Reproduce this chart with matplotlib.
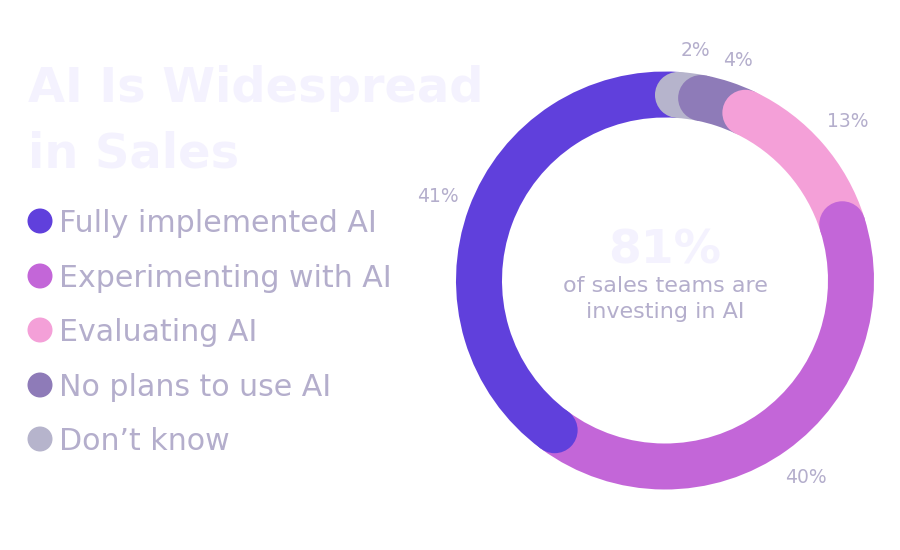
import matplotlib
matplotlib.use("Agg")
import matplotlib.pyplot as plt
from matplotlib.patches import Wedge, Circle
import numpy as np

# data
categories = ["Fully implemented AI", "Experimenting with AI", "Evaluating AI",
              "No plans to use AI", "Don\u2019t know"]
values = [41, 40, 13, 4, 2]
colors = ["#6040DC", "#C366D8", "#F4A0D8", "#8E7BB8", "#B6B4CC"]
title_lines = ["AI Is Widespread", "in Sales"]
center_value = "81%"
center_caption = ["of sales teams are", "investing in AI"]

TEXT = "#B4AECC"
PALE = "#F4F2FE"
FONT = "DejaVu Sans"

fig = plt.figure(figsize=(9, 5.5), dpi=100)
ax = fig.add_axes([0, 0, 1, 1])
ax.set_xlim(0, 900)
ax.set_ylim(0, 550)
ax.axis("off")

# donut geometry (pixel units, y up)
cx, cy = 665, 269.5
r_out, width = 209, 46
r_mid = r_out - width / 2
start = 4.0  # degrees clockwise from 12 o'clock where "Don't know" begins

# segments go clockwise starting with "Don't know", ending with "Fully implemented"
order = [4, 3, 2, 1, 0]
total = sum(values)
bounds = {}
a = start
for i in order:
    span = values[i] / total * 360
    bounds[i] = (a, a + span)
    a += span


def to_math(theta):
    return 90 - theta


for i in order:
    a0, a1 = bounds[i]
    ax.add_patch(Wedge((cx, cy), r_out, to_math(a1), to_math(a0), width=width,
                       facecolor=colors[i], edgecolor="none"))

# rounded start caps drawn on top of the previous segment
for i in order:
    a0, _ = bounds[i]
    t = np.deg2rad(to_math(a0))
    ax.add_patch(Circle((cx + r_mid * np.cos(t), cy + r_mid * np.sin(t)), width / 2,
                        facecolor=colors[i], edgecolor="none"))

# percentage labels
for i in order:
    a0, a1 = bounds[i]
    mid = (a0 + a1) / 2
    r_lab = 232 if values[i] < 10 else 242
    t = np.deg2rad(to_math(mid))
    ax.text(cx + r_lab * np.cos(t), cy + r_lab * np.sin(t), f"{values[i]}%",
            ha="center", va="center", fontsize=13.5, color=TEXT, family=FONT)

# centre text
ax.text(cx, 550 - 263, center_value, ha="center", va="baseline", fontsize=34,
        fontweight="bold", color=PALE, family=FONT)
for k, line in enumerate(center_caption):
    ax.text(cx, 550 - 292 - k * 26, line, ha="center", va="baseline", fontsize=16,
            color=TEXT, family=FONT)

# title
for k, line in enumerate(title_lines):
    ax.text(28, 550 - 102 - k * 66, line, ha="left", va="baseline", fontsize=34.5,
            fontweight="bold", color=PALE, family=FONT)

# legend
row_y = [221, 276, 330, 385, 439]
for i, (lab, c) in enumerate(zip(categories, colors)):
    y = 550 - row_y[i]
    ax.add_patch(Circle((40, y), 12.5, facecolor=c, edgecolor="none"))
    ax.text(59, y - 11, lab, ha="left", va="baseline", fontsize=21.6, color=TEXT,
            family=FONT)

fig.savefig("out.png", dpi=100, facecolor="white")
